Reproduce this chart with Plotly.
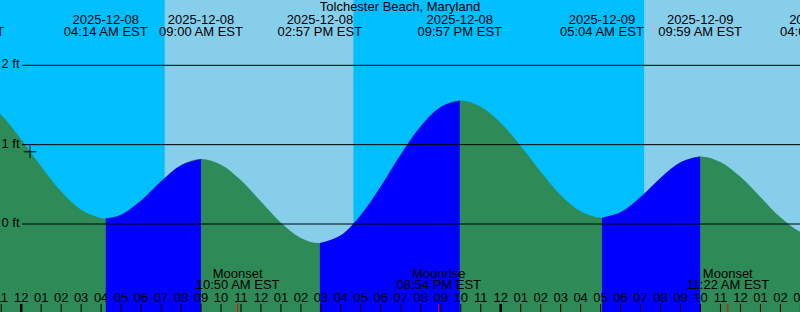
import plotly.graph_objects as go

# ---------------- data ----------------
title_text = "Tolchester Beach, Maryland"

# tide extremes (hours from 2025-12-08 00:00 EST, feet)
event_hours = [-2.97, 4.233, 9.0, 14.95, 21.95, 29.067, 33.983, 40.1]
event_feet = [1.66, 0.07, 0.82, -0.24, 1.555, 0.08, 0.852, -0.17]
event_kinds = ["high", "low", "high", "low", "high", "low", "high", "low"]
event_dates = ["2025-12-07", "2025-12-08", "2025-12-08", "2025-12-08",
               "2025-12-08", "2025-12-09", "2025-12-09", "2025-12-09"]
event_times = ["09:02 PM EST", "04:14 AM EST", "09:00 AM EST", "02:57 PM EST",
               "09:57 PM EST", "05:04 AM EST", "09:59 AM EST", "04:06 PM EST"]

# tide height read at whole hours (hours, feet)
curve_hours = [-2, -1, 0, 1, 2, 3, 4, 5, 6, 7, 8, 10, 11, 12, 13, 14,
               16, 17, 18, 19, 20, 21, 23, 24, 25, 26, 27, 28, 30, 31,
               32, 33, 35, 36, 37, 38, 39]
curve_feet = [1.58, 1.375, 1.066, 0.725, 0.41, 0.18, 0.074, 0.117, 0.297, 0.539,
              0.742, 0.748, 0.551, 0.283, 0.017, -0.175, -0.142, 0.114, 0.477,
              0.877, 1.233, 1.475, 1.477, 1.273, 0.982, 0.659, 0.366, 0.161,
              0.147, 0.339, 0.581, 0.778, 0.782, 0.594, 0.339, 0.084, -0.101]

sunrise_hours = [7.18, 31.18]
sunset_hours = [16.63, 40.63]

moon_hours = [10.833, 20.9, 35.367]
moon_events = ["Moonset", "Moonrise", "Moonset"]
moon_times = ["10:50 AM EST", "08:54 PM EST", "11:22 AM EST"]

tick_hours = list(range(-1, 40))
tick_labels = ["11", "12", "01", "02", "03", "04", "05", "06", "07", "08", "09",
               "10", "11", "12", "01", "02", "03", "04", "05", "06", "07", "08",
               "09", "10", "11", "12", "01", "02", "03", "04", "05", "06", "07",
               "08", "09", "10", "11", "12", "01", "02", "03"]
midnight_hours = [0, 24]

level_feet = [0, 1, 2]
level_labels = ["0 ft", "1 ft", "2 ft"]

mark_hour = 0.44
mark_feet = 0.91

# ---------------- styling / geometry ----------------
W, H = 800, 312
X_MIN, X_MAX = -1.061, 38.98
Y_MIN, Y_MAX = -1.109, 2.823
FONT = "Liberation Sans"
NIGHT = "#00BFFF"
DAY = "#87CEEB"
EBB = "#2E8B57"
FLOOD = "#0000FF"


def px_to_feet(p):
    return Y_MAX - p * (Y_MAX - Y_MIN) / H


def px_to_hour(p):
    return X_MIN + p * (X_MAX - X_MIN) / W


pts = sorted(zip(curve_hours + event_hours, curve_feet + event_feet))
T = [p[0] for p in pts]
F = [p[1] for p in pts]
BASE = Y_MIN - 1.0

fig = go.Figure()


def add_fill(xs, ys, color):
    fig.add_trace(go.Scatter(x=[xs[0], xs[-1]], y=[BASE, BASE], mode="lines",
                             line=dict(width=0, color=color), hoverinfo="skip",
                             showlegend=False))
    fig.add_trace(go.Scatter(x=xs, y=ys, mode="lines", fill="tonexty",
                             fillcolor=color, line=dict(width=0, color=color, shape="spline"),
                             hoverinfo="skip", showlegend=False))


add_fill(T, F, EBB)
for i in range(len(event_hours) - 1):
    if event_kinds[i] == "low":
        a, b = event_hours[i], event_hours[i + 1]
        seg = [(t, f) for t, f in pts if a - 1e-9 <= t <= b + 1e-9]
        add_fill([s[0] for s in seg], [s[1] for s in seg], FLOOD)


def add_text(xs, ys, texts, pos="middle center"):
    fig.add_trace(go.Scatter(x=xs, y=ys, text=texts, mode="text", textposition=pos,
                             textfont=dict(family=FONT, size=13, color="black"),
                             hoverinfo="skip", showlegend=False, cliponaxis=True))


# title and tide-event labels
add_text([(X_MIN + X_MAX) / 2], [px_to_feet(8.2)], [title_text])
add_text(event_hours, [px_to_feet(20.6)] * len(event_hours), event_dates)
add_text(event_hours, [px_to_feet(32.5)] * len(event_hours), event_times)

# moon labels
add_text(moon_hours, [px_to_feet(274.5)] * len(moon_hours), moon_events)
add_text(moon_hours, [px_to_feet(286.0)] * len(moon_hours), moon_times)

# hour labels
add_text(tick_hours, [px_to_feet(298.4)] * len(tick_hours), tick_labels)

# level labels
add_text([px_to_hour(1.5)] * len(level_feet), [lv + 0.005 for lv in level_feet],
         level_labels, pos="middle right")

# mark
fig.add_trace(go.Scatter(x=[mark_hour], y=[mark_feet], mode="markers",
                         marker=dict(symbol="cross-thin", size=9,
                                     line=dict(width=1, color="black")),
                         hoverinfo="skip", showlegend=False))

shapes = []
for r, s in zip(sunrise_hours, sunset_hours):
    shapes.append(dict(type="rect", xref="x", yref="paper", x0=r, x1=s, y0=0, y1=1,
                       fillcolor=DAY, line=dict(width=0), layer="below"))
for lv in level_feet:
    shapes.append(dict(type="line", xref="paper", yref="y", x0=22 / W, x1=1, y0=lv, y1=lv,
                       line=dict(color="black", width=1), layer="above"))
for t in tick_hours:
    shapes.append(dict(type="line", xref="x", yref="paper", x0=t, x1=t, y0=0, y1=8 / H,
                       line=dict(color="black", width=2.5 if t in midnight_hours else 1),
                       layer="above"))
for t in moon_hours:
    shapes.append(dict(type="line", xref="x", yref="paper", x0=t, x1=t, y0=0, y1=8 / H,
                       line=dict(color="red", width=1), layer="above"))

fig.update_layout(
    width=W, height=H, margin=dict(l=0, r=0, t=0, b=0),
    plot_bgcolor=NIGHT, paper_bgcolor=NIGHT,
    xaxis=dict(range=[X_MIN, X_MAX], visible=False, showgrid=False, zeroline=False, fixedrange=True),
    yaxis=dict(range=[Y_MIN, Y_MAX], visible=False, showgrid=False, zeroline=False, fixedrange=True),
    shapes=shapes, hovermode=False, showlegend=False,
)

fig.write_html("out.html", config=dict(displayModeBar=False))
